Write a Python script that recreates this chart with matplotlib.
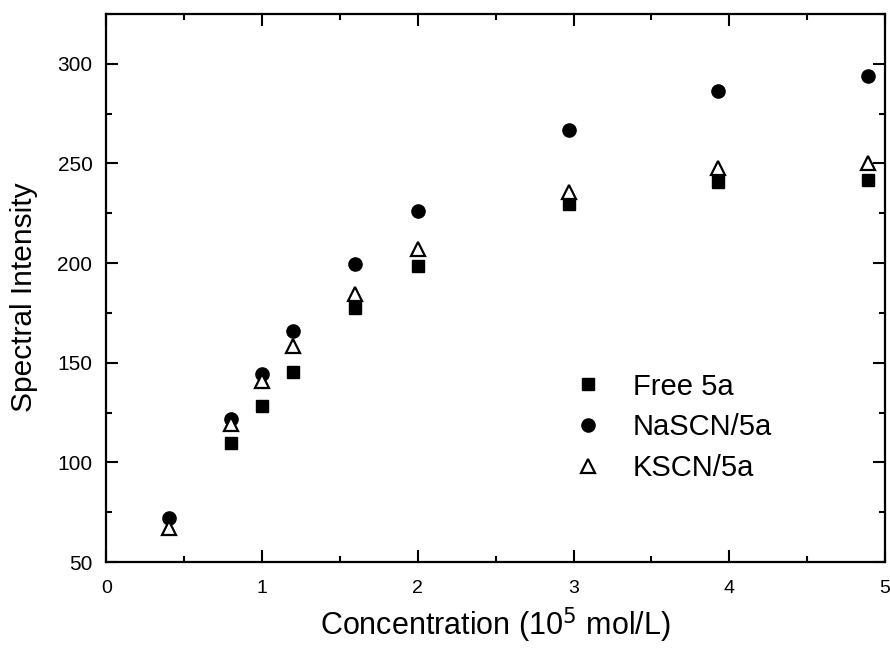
import matplotlib
matplotlib.use("Agg")
import matplotlib.pyplot as plt
from matplotlib.ticker import MultipleLocator

plt.rcParams['font.family'] = ['Liberation Sans', 'DejaVu Sans']

conc = [0.4, 0.8, 1.0, 1.2, 1.6, 2.0, 2.97, 3.93, 4.89]
free_5a = [None, 109.5, 128.5, 145.5, 177.5, 198.5, 229.5, 240.5, 241.5]
nascn_5a = [72, 122, 144.5, 166, 199.5, 226, 267, 286.5, 294]
kscn_5a = [67, 119.5, 141, 158.5, 184.5, 207, 235.5, 247.5, 250]

fx = [c for c, v in zip(conc, free_5a) if v is not None]
fy = [v for v in free_5a if v is not None]

fig = plt.figure(figsize=(8.9, 6.48), dpi=100)
ax = fig.add_axes([0.1194, 0.1327, 0.9944 - 0.1194, 0.9784 - 0.1327])

ax.plot(fx, fy, linestyle='none', marker='s', markersize=8.5, color='black', label='Free 5a')
ax.plot(conc, nascn_5a, linestyle='none', marker='o', markersize=9.5, color='black', label='NaSCN/5a')
ax.plot(conc, kscn_5a, linestyle='none', marker='^', markersize=10, markerfacecolor='white',
        markeredgecolor='black', markeredgewidth=1.6, label='KSCN/5a')

ax.set_xlim(0, 5)
ax.set_ylim(50, 325)
ax.xaxis.set_major_locator(MultipleLocator(1))
ax.xaxis.set_minor_locator(MultipleLocator(0.5))
ax.yaxis.set_major_locator(MultipleLocator(50))
ax.yaxis.set_minor_locator(MultipleLocator(25))

ax.tick_params(which='both', direction='in', top=True, right=True, width=1.5)
ax.tick_params(which='major', length=8.5)
ax.tick_params(which='minor', length=4.5)
ax.tick_params(axis='x', which='major', pad=13, labelsize=14)
ax.tick_params(axis='y', which='major', pad=10, labelsize=15)
for s in ax.spines.values():
    s.set_linewidth(1.6)

ax.set_xlabel('Concentration (10$^{5}$ mol/L)', fontsize=22)
ax.set_ylabel('Spectral Intensity', fontsize=21.5)
ax.xaxis.set_label_coords(0.5, -0.08)
ax.yaxis.set_label_coords(-0.088, 0.484)

leg = ax.legend(loc='upper left', bbox_to_anchor=(0.581, 0.367), frameon=False,
                fontsize=21, handletextpad=0.94, labelspacing=0.44, handlelength=1.2,
                borderaxespad=0)

fig.savefig('out.png', dpi=100)
